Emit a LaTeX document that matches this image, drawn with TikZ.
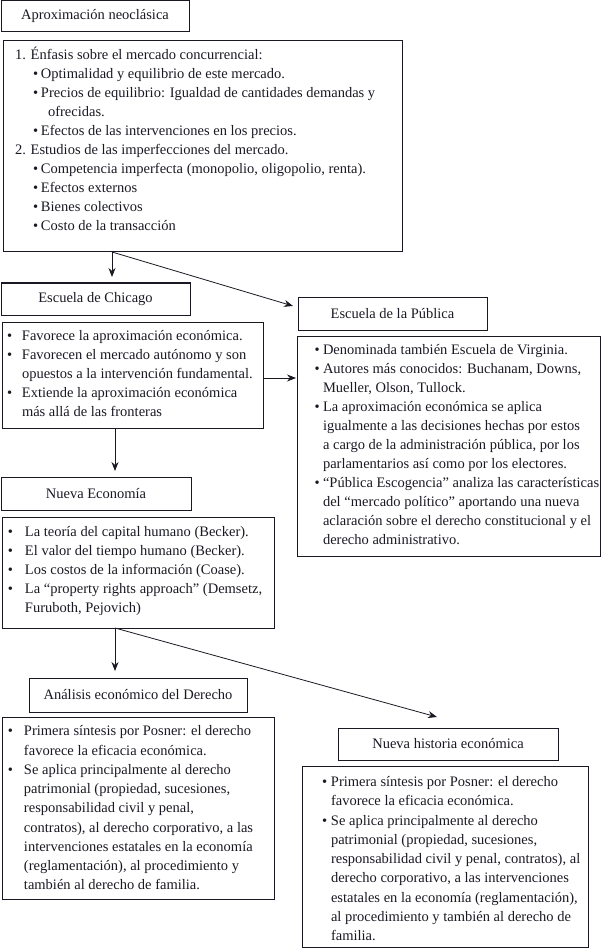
\documentclass[tikz,border=0pt]{standalone}
\usepackage{fontspec}
\setmainfont{Liberation Serif}
\usetikzlibrary{arrows.meta}
\definecolor{ink}{RGB}{25,25,35}
\newcommand{\bodyfont}{\fontsize{14.5}{19}\selectfont}
\newcommand{\widefont}{\fontsize{14.5}{19.25}\selectfont}
\newcommand{\bl}[1]{\makebox[#1][l]{•}}
\begin{document}
\begin{tikzpicture}[x=1pt,y=-1pt,
  frame/.style={draw=ink, line width=1pt, inner sep=0pt, outer sep=0pt, anchor=north west},
  ttl/.style={frame, font=\bodyfont, text=ink},
  txt/.style={anchor=north west, inner sep=0pt, outer sep=0pt, align=left, font=\bodyfont, text=ink},
  arr/.style={draw=ink, line width=0.8pt, -{Stealth[length=9pt,width=7pt]}}]
\useasboundingbox (0,0) rectangle (602,949);

% title boxes
\node[ttl, minimum width=188pt, minimum height=31pt] (t1) at (1,1) {Aproximación neoclásica};
\node[ttl, minimum width=189pt, minimum height=32pt] (t2) at (1,283) {Escuela de Chicago};
\node[ttl, minimum width=189pt, minimum height=33pt] (t3) at (298,297) {Escuela de la Pública};
\node[ttl, minimum width=190pt, minimum height=33pt] (t4) at (1,477) {Nueva Economía};
\node[ttl, minimum width=218pt, minimum height=34pt] (t5) at (29,678) {Análisis económico del Derecho};
\node[ttl, minimum width=220pt, minimum height=32pt] (t6) at (338,728) {Nueva historia económica};

% content boxes
\node[frame, minimum width=399pt, minimum height=211pt] (b1) at (3,41) {};
\node[frame, minimum width=261pt, minimum height=106pt] (b2) at (2,322) {};
\node[frame, minimum width=303pt, minimum height=220pt] (b3) at (297,336) {};
\node[frame, minimum width=272pt, minimum height=111pt] (b4) at (2,517) {};
\node[frame, minimum width=272pt, minimum height=182pt] (b5) at (2,717) {};
\node[frame, minimum width=286pt, minimum height=181pt] (b6) at (302,766) {};

% texts
\node[txt] (x1) at (15,46.7) {\strut 1. Énfasis sobre el mercado concurrencial:\\
\hspace*{18pt}\bl{8pt}Optimalidad y equilibrio de este mercado.\\
\hspace*{18pt}\bl{8pt}Precios de equilibrio: Igualdad de cantidades demandas y\\
\hspace*{33pt}ofrecidas.\\
\hspace*{18pt}\bl{8pt}Efectos de las intervenciones en los precios.\\
2. Estudios de las imperfecciones del mercado.\\
\hspace*{18pt}\bl{8pt}Competencia imperfecta (monopolio, oligopolio, renta).\\
\hspace*{18pt}\bl{8pt}Efectos externos\\
\hspace*{18pt}\bl{8pt}Bienes colectivos\\
\hspace*{18pt}\bl{8pt}Costo de la transacción};

\node[txt] (x2) at (7,326.7) {\strut\bl{15pt}Favorece la aproximación económica.\\
\bl{15pt}Favorecen el mercado autónomo y son\\
\hspace*{15pt}opuestos a la intervención fundamental.\\
\bl{15pt}Extiende la aproximación económica\\
\hspace*{15pt}más allá de las fronteras};

\node[txt] (x3) at (314.5,340.7) {\strut\bl{8.5pt}Denominada también Escuela de Virginia.\\
\bl{8.5pt}Autores más conocidos: Buchanam, Downs,\\
\hspace*{8.5pt}Mueller, Olson, Tullock.\\
\bl{8.5pt}La aproximación económica se aplica\\
\hspace*{8.5pt}igualmente a las decisiones hechas por estos\\
\hspace*{8.5pt}a cargo de la administración pública, por los\\
\hspace*{8.5pt}parlamentarios así como por los electores.\\
\bl{8.5pt}“Pública Escogencia” analiza las características\\
\hspace*{8.5pt}del “mercado político” aportando una nueva\\
\hspace*{8.5pt}aclaración sobre el derecho constitucional y el\\
\hspace*{8.5pt}derecho administrativo.};

\node[txt] (x4) at (8,522.7) {\strut\bl{17pt}La teoría del capital humano (Becker).\\
\bl{17pt}El valor del tiempo humano (Becker).\\
\bl{17pt}Los costos de la información (Coase).\\
\bl{17pt}La “property rights approach” (Demsetz,\\
\hspace*{17pt}Furuboth, Pejovich)};

\node[txt, font=\widefont] (x5) at (8,722.5) {\strut\bl{16pt}Primera síntesis por Posner: el derecho\\
\hspace*{16pt}favorece la eficacia económica.\\
\bl{16pt}Se aplica principalmente al derecho\\
\hspace*{16pt}patrimonial (propiedad, sucesiones,\\
\hspace*{16pt}responsabilidad civil y penal,\\
\hspace*{16pt}contratos), al derecho corporativo, a las\\
\hspace*{16pt}intervenciones estatales en la economía\\
\hspace*{16pt}(reglamentación), al procedimiento y\\
\hspace*{16pt}también al derecho de familia.};

\node[txt, font=\widefont] (x6) at (322,773.2) {\strut\bl{9pt}Primera síntesis por Posner: el derecho\\
\hspace*{9pt}favorece la eficacia económica.\\
\bl{9pt}Se aplica principalmente al derecho\\
\hspace*{9pt}patrimonial (propiedad, sucesiones,\\
\hspace*{9pt}responsabilidad civil y penal, contratos), al\\
\hspace*{9pt}derecho corporativo, a las intervenciones\\
\hspace*{9pt}estatales en la economía (reglamentación),\\
\hspace*{9pt}al procedimiento y también al derecho de\\
\hspace*{9pt}familia.};

% connectors
\draw[arr] ([xshift=109pt]b1.south west) -- ([xshift=111pt,yshift=6pt]t2.north west);
\draw[arr] ([xshift=109pt]b1.south west) -- ([xshift=-5pt,yshift=-9pt]t3.north west);
\draw[arr] ([yshift=-3pt]b2.east) -- ([yshift=-3pt,xshift=-1pt]b2.east -| b3.west);
\draw[arr] ([xshift=113pt]b2.south west) -- ([xshift=114pt,yshift=6pt]t4.north west);
\draw[arr] ([xshift=113pt]b4.south west) -- ([xshift=86pt,yshift=7pt]t5.north west);
\draw[arr] ([xshift=113pt]b4.south west) -- ([xshift=99pt,yshift=11pt]t6.north west);
\end{tikzpicture}
\end{document}
